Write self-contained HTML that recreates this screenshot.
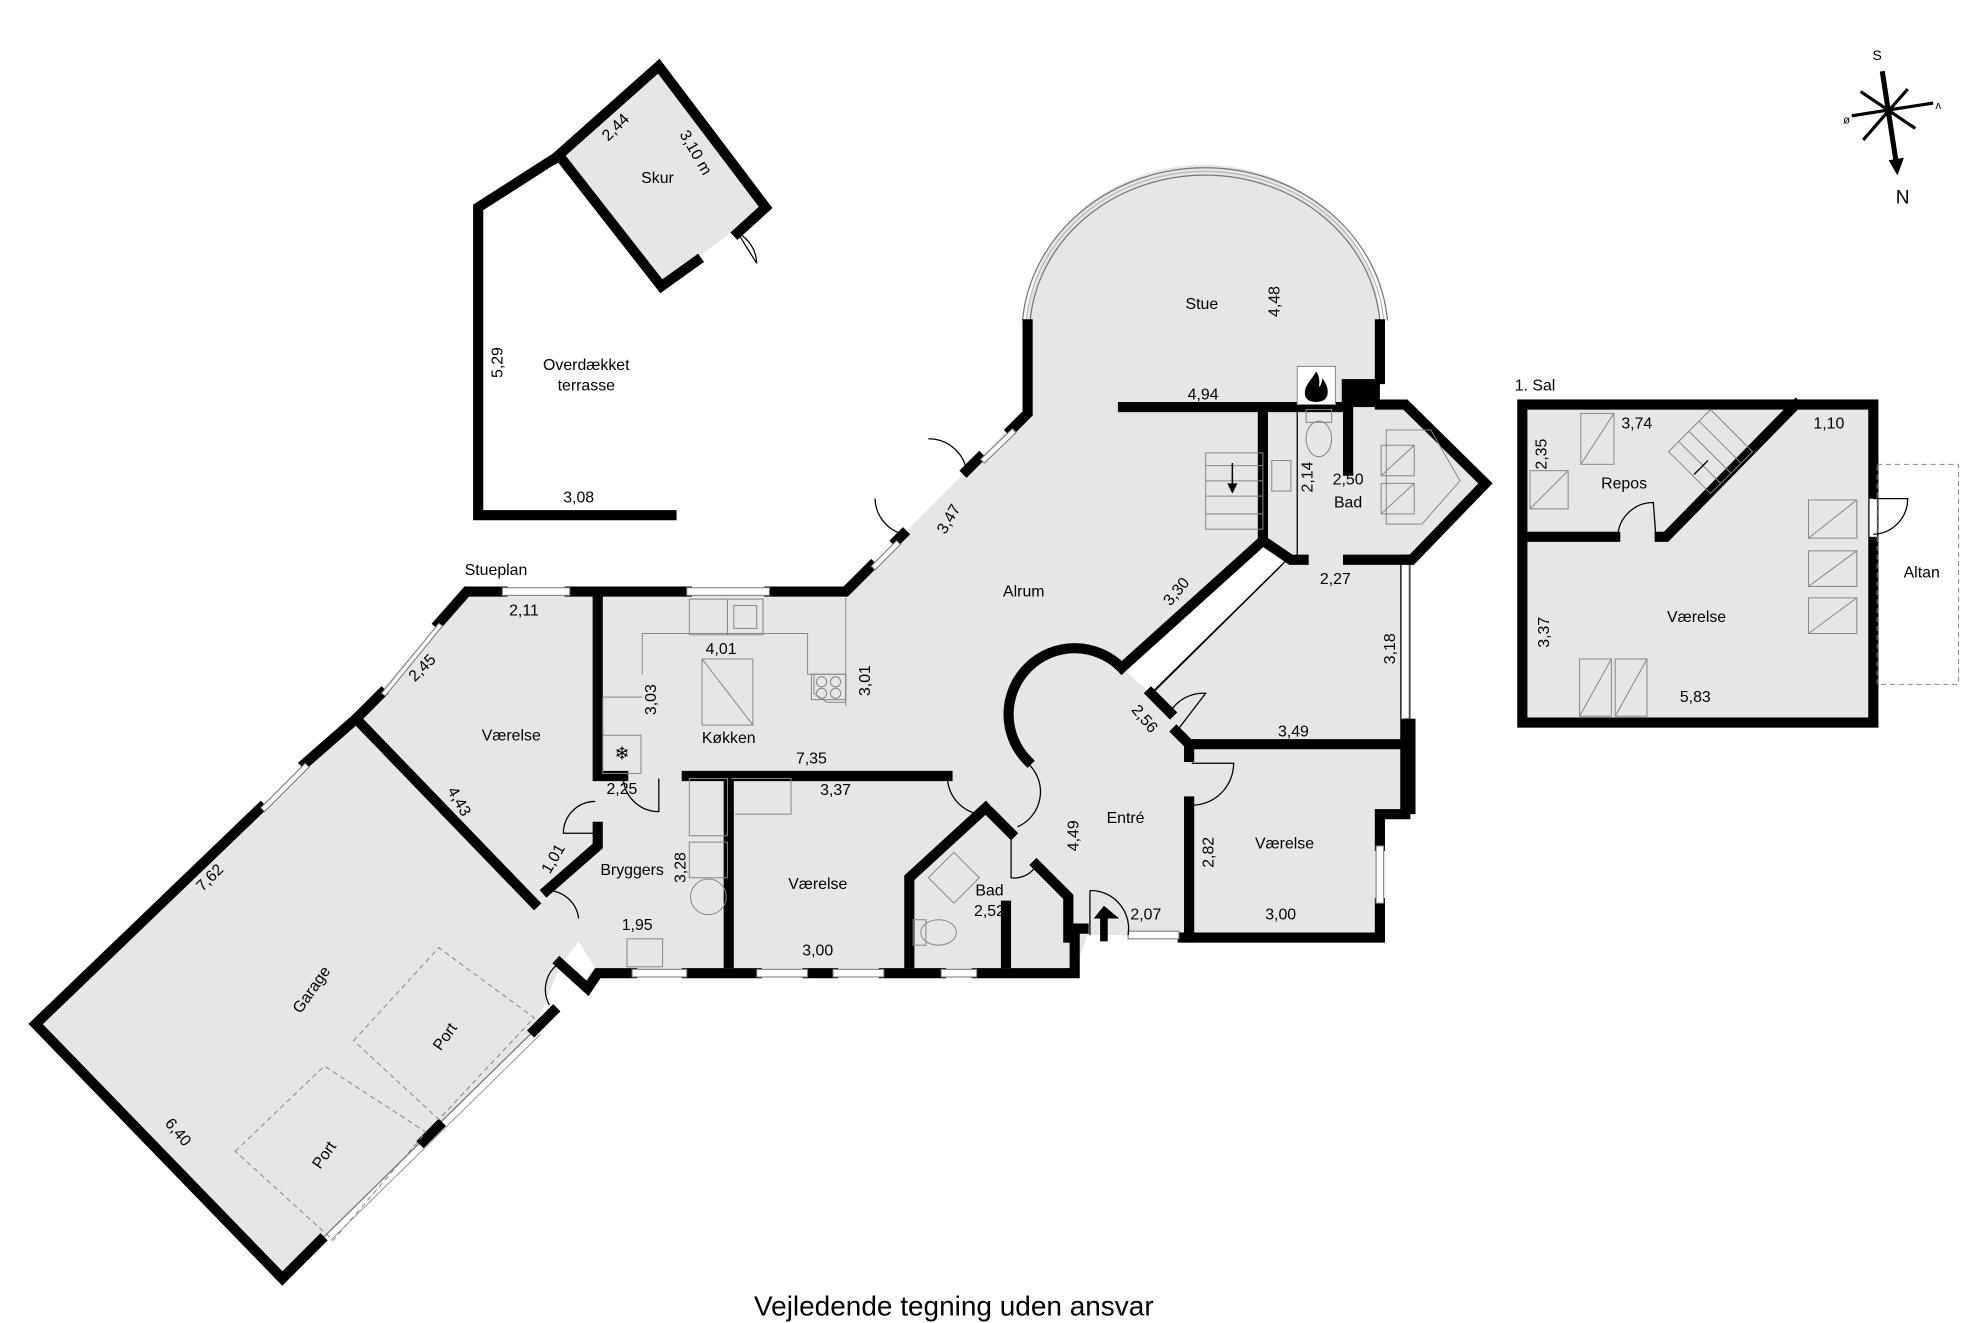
<!DOCTYPE html>
<html><head><meta charset="utf-8"><style>
html,body{margin:0;padding:0;background:#fff;}
svg{display:block;}
text{font-family:"Liberation Sans",Arial,sans-serif;font-size:12.5px;fill:#000;text-anchor:middle;}
.w{fill:none;stroke:#000;stroke-width:8;stroke-linejoin:miter;stroke-linecap:square;}
.t{fill:none;stroke:#000;stroke-width:1;}
.g{fill:none;stroke:#888;stroke-width:0.8;}
.win{fill:#fff;stroke:#777;stroke-width:0.8;}
</style></head><body>
<svg width="1984" height="1323" viewBox="0 0 1560 1040" preserveAspectRatio="none" xmlns="http://www.w3.org/2000/svg">
<rect width="1560" height="1040" fill="#fff"/>
<polygon points="441,122 518,52 602,163 520,223" fill="#e6e6e6"/>
<path d="M367,465 L665,465 L805,325 L808,255 A138,125 0 0 1 1085,255 L1085,318 L1105,318 L1168,380 L1110,440 L1105,440 L1105,640 L1085,640 L1085,737 L930,737 L930,735 L855,735 L845,765 L470,765 L455,740 L440,760 L420,810 L222,1005 L28,805 L280,565 Z" fill="#e6e6e6"/>
<rect x="1197" y="318" width="276" height="250" fill="#e6e6e6"/>
<polygon points="995,425 1012,440 905,545 882,525" fill="#fff"/>
<polyline class="w" points="528,405 376,405 376,163 437,124"/>
<polyline class="w" points="437,124 518,52 602,163 580,183"/>
<polyline class="w" points="548,205 520,225 441,124"/>
<path class="t" d="M580,183 L595,207 M580,183 A28,28 0 0 1 595,207"/>
<path d="M810,252 A138,125 0 0 1 1085,252" fill="none" stroke="#777" stroke-width="1"/>
<path d="M804,252 A144,131 0 0 1 1091,252" fill="none" stroke="#777" stroke-width="1"/>
<path d="M807,252 A141,128 0 0 1 1088,252" fill="none" stroke="#bbb" stroke-width="1"/>
<polyline class="w" points="808,255 808,325 795,338"/>
<polyline class="w" points="770,360 760,370"/>
<polyline class="w" points="710,420 705,425"/>
<polyline class="w" points="685,445 665,465 605,465"/>
<polyline class="w" points="540,465 448,465"/>
<polyline class="w" points="395,465 367,465 345,490"/>
<polyline class="w" points="300,545 280,565 240,600"/>
<polyline class="w" points="205,635 28,805 222,1005 252,975"/>
<line x1="255" y1="972" x2="420" y2="810" stroke="#777" stroke-width="1"/>
<line x1="260" y1="975" x2="425" y2="813" stroke="#999" stroke-width="0.8"/>
<polyline class="w" points="333,897 345,885"/>
<polyline class="w" points="420,810 435,795"/>
<polyline class="w" points="440,757 462,777 470,765 497,765"/>
<polyline class="w" points="540,765 595,765"/>
<polyline class="w" points="635,765 655,765"/>
<polyline class="w" points="695,765 740,765"/>
<polyline class="w" points="768,765 845,765 845,730 852,730"/>
<polyline class="w" points="1085,255 1085,298"/>
<rect x="1055" y="298" width="30" height="22" fill="#000"/>
<polyline class="w" points="1085,318 1105,318 1168,380 1110,440 1105,440 1105,640 1085,640 1085,665"/>
<polyline class="w" points="1085,710 1085,737 930,737"/>
<g class="win">
<polygon points="796,337 771,361 774,364 799,340"/>
<polygon points="705,425 685,445 688,448 708,428"/>
<rect x="540" y="462" width="65" height="6"/>
<rect x="395" y="462" width="53" height="6"/>
<polygon points="345,490 300,545 303,547 348,492"/>
<polygon points="240,600 205,635 208,638 243,603"/>
<rect x="497" y="762" width="43" height="6"/>
<rect x="595" y="762" width="40" height="6"/>
<rect x="655" y="762" width="40" height="6"/>
<rect x="740" y="762" width="28" height="6"/>
<rect x="887" y="732" width="40" height="6"/>
<rect x="1082" y="665" width="6" height="45"/>
<rect x="1102" y="440" width="6" height="125"/>
</g>
<rect x="1105" y="565" width="8" height="75" fill="#000"/>
<path class="t" d="M730,345 A30,30 0 0 1 760,370 M710,420 A30,30 0 0 1 688,392"/>
<polyline class="w" points="883,320 1055,320"/>
<rect x="1020" y="288" width="30" height="30" fill="#fff" stroke="#888" stroke-width="0.8"/>
<path d="M1035,292 C1030,300 1026,303 1026,309 C1026,314 1030,316 1035,316 C1041,316 1044,313 1044,308 C1044,303 1041,300 1040,297 C1039,302 1038,304 1037,304 C1038,299 1037,295 1035,292 Z" fill="#000"/>
<polyline class="w" points="993,320 993,425 1015,440 1025,440"/>
<polyline class="w" points="1060,440 1105,440"/>
<polyline class="w" points="1060,320 1060,370"/>
<line class="t" x1="1020" y1="320" x2="1020" y2="440" stroke="#888"/>
<ellipse cx="1037" cy="345" rx="10" ry="14" class="g"/>
<rect x="1027" y="322" width="20" height="10" class="g"/>
<rect x="1000" y="362" width="15" height="24" class="g"/>
<g class="g"><path d="M1090,338 L1125,338 L1148,378 L1118,412 L1090,412 Z"/><rect x="1086" y="350" width="26" height="24"/><rect x="1086" y="380" width="26" height="24"/><line x1="1086" y1="374" x2="1112" y2="350"/><line x1="1086" y1="404" x2="1112" y2="380"/></g>
<g class="g"><rect x="948" y="356" width="45" height="60"/><line x1="948" y1="366" x2="993" y2="366"/><line x1="948" y1="378" x2="993" y2="378"/><line x1="948" y1="390" x2="993" y2="390"/><line x1="948" y1="404" x2="993" y2="404"/></g>
<line x1="969" y1="364" x2="969" y2="384" stroke="#000" stroke-width="1.2"/><polygon points="965,380 973,380 969,388" fill="#000"/>
<polyline class="w" points="993,425 882,525"/>
<line class="t" x1="1012" y1="440" x2="905" y2="545" stroke="#888"/>
<line class="t" x1="1008" y1="444" x2="908" y2="543" stroke="#aaa"/>
<path class="w" d="M882,525 A45,45 0 1 0 808,598"/>
<polyline class="w" points="905,545 920,560"/>
<path class="t" d="M920,560 A30,30 0 0 1 948,545 L925,575"/>
<polyline class="w" points="925,575 935,585 1105,585"/>
<polyline class="w" points="935,585 935,595"/>
<polyline class="w" points="935,630 935,737"/>
<path class="t" d="M937,600 L970,600 A33,33 0 0 1 937,633"/>
<polyline class="w" points="470,470 470,610 490,610"/>
<polyline class="w" points="540,610 745,610"/>
<path class="t" d="M745,612 A30,30 0 0 0 770,640 M808,600 A30,30 0 0 1 800,650"/>
<polyline class="w" points="573,612 573,757"/>
<g class="g"><rect x="542" y="471" width="30" height="28"/><rect x="572" y="471" width="28" height="28"/><rect x="577" y="476" width="18" height="18"/><polyline points="505,530 505,498 635,498 635,530 665,530 665,552 650,552 640,545 640,530"/><rect x="552" y="518" width="40" height="52"/><line x1="552" y1="518" x2="592" y2="570"/><rect x="638" y="530" width="27" height="20"/><circle cx="646" cy="536" r="4"/><circle cx="657" cy="536" r="4"/><circle cx="646" cy="545" r="4"/><circle cx="657" cy="545" r="4"/><rect x="474" y="578" width="30" height="30"/><polyline points="474,578 474,548 505,548"/><line x1="665" y1="470" x2="665" y2="555"/></g>
<text x="489" y="597" style="font-size:14px">❄</text>
<polyline class="w" points="470,650 470,665 430,700"/>
<polyline class="w" points="280,565 420,710"/>
<path class="t" d="M490,610 A28,28 0 0 0 518,638 L518,612 M468,630 A25,25 0 0 0 443,655 L470,655 M430,700 A25,25 0 0 1 455,722 M440,757 A25,25 0 0 0 432,790"/>
<g class="g"><rect x="542" y="612" width="30" height="45"/><rect x="542" y="662" width="30" height="28"/><circle cx="557" cy="705" r="14"/><rect x="493" y="738" width="28" height="22"/><polyline points="575,612 622,612 622,640 578,640"/></g>
<polyline class="w" points="715,757 715,690 775,635"/>
<polyline class="w" points="780,640 795,655"/>
<polyline class="w" points="815,680 840,705 840,737"/>
<polyline class="w" points="791,712 791,757"/>
<path class="t" d="M795,655 L795,690 A20,20 0 0 0 815,680"/>
<g class="g"><polygon points="730,690 750,670 770,690 750,710"/><ellipse cx="738" cy="733" rx="14" ry="10"/><rect x="718" y="723" width="10" height="20"/></g>
<path class="t" d="M857,700 L857,735 M857,700 A30,30 0 0 1 887,735"/>
<polygon points="860,722 880,722 868,712" fill="#000"/>
<rect x="865" y="720" width="6" height="20" fill="#000"/>
<g class="g" stroke-dasharray="4,3"><polygon points="278,818 345,745 420,800 345,880"/><polygon points="185,905 255,838 335,890 262,975"/></g>
<rect class="w" x="1197" y="318" width="276" height="250" fill="none"/>
<polyline class="w" points="1200,422 1270,422"/>
<polyline class="w" points="1305,422 1310,422 1412,318"/>
<path class="t" d="M1272,422 A28,28 0 0 1 1300,395 L1302,422"/>
<rect x="1470" y="392" width="6" height="30" fill="#fff"/>
<path class="t" d="M1473,392 L1500,392 A28,28 0 0 1 1473,420"/>
<rect class="g" x="1476" y="365" width="64" height="173" stroke-dasharray="4,3"/>
<g class="g"><rect x="1243" y="325" width="26" height="40"/><line x1="1243" y1="365" x2="1269" y2="325"/><rect x="1203" y="370" width="30" height="30"/><line x1="1203" y1="400" x2="1233" y2="370"/><rect x="1422" y="393" width="38" height="30"/><line x1="1422" y1="423" x2="1460" y2="393"/><rect x="1422" y="433" width="38" height="28"/><line x1="1422" y1="461" x2="1460" y2="433"/><rect x="1422" y="470" width="38" height="28"/><line x1="1422" y1="498" x2="1460" y2="470"/><rect x="1242" y="518" width="25" height="45"/><line x1="1242" y1="563" x2="1267" y2="518"/><rect x="1270" y="518" width="25" height="45"/><line x1="1270" y1="563" x2="1295" y2="518"/><polygon points="1312,355 1345,322 1378,355 1345,388"/><line x1="1320" y1="347" x2="1353" y2="380"/><line x1="1328" y1="339" x2="1361" y2="372"/><line x1="1336" y1="331" x2="1369" y2="364"/></g>
<line x1="1343" y1="362" x2="1332" y2="373" stroke="#000" stroke-width="1"/>
<g stroke="#000" stroke-linecap="butt">
<line x1="1480" y1="56" x2="1491" y2="128" stroke-width="4"/>
<polygon points="1485,126 1497,124 1492,138" fill="#000" stroke="none"/>
<line x1="1456" y1="91" x2="1520" y2="81" stroke-width="2.5"/>
<line x1="1463" y1="72" x2="1506" y2="101" stroke-width="2.5"/>
<line x1="1465" y1="110" x2="1500" y2="70" stroke-width="2.5"/>
</g>
<text x="1476" y="47" style="font-size:11px">S</text>
<text x="1496" y="160" style="font-size:15px">N</text>
<text x="1452" y="97" style="font-size:9px">ø</text>
<text x="1524" y="87" style="font-size:9px" transform="rotate(180 1524 84)">v</text>
<text x="517" y="144">Skur</text>
<text x="484" y="104" transform="rotate(-45 484 100)">2,44</text>
<text x="547" y="124" transform="rotate(60 547 120)">3,10 m</text>
<text x="461" y="291">Overdækket</text>
<text x="461" y="307">terrasse</text>
<text x="391" y="289" transform="rotate(-90 391 285)">5,29</text>
<text x="455" y="395">3,08</text>
<text x="945" y="243">Stue</text>
<text x="1002" y="241" transform="rotate(-90 1002 237)">4,48</text>
<text x="946" y="314">4,94</text>
<text x="746" y="412" transform="rotate(-60 746 408)">3,47</text>
<text x="805" y="469">Alrum</text>
<text x="925" y="469" transform="rotate(-50 925 465)">3,30</text>
<text x="1028" y="379" transform="rotate(-90 1028 375)">2,14</text>
<text x="1060" y="381">2,50</text>
<text x="1060" y="399">Bad</text>
<text x="1050" y="459">2,27</text>
<text x="1093" y="514" transform="rotate(-90 1093 510)">3,18</text>
<text x="390" y="452">Stueplan</text>
<text x="412" y="484">2,11</text>
<text x="332" y="529" transform="rotate(-45 332 525)">2,45</text>
<text x="402" y="582">Værelse</text>
<text x="361" y="634" transform="rotate(60 361 630)">4,43</text>
<text x="435" y="679" transform="rotate(-60 435 675)">1,01</text>
<text x="567" y="514">4,01</text>
<text x="573" y="584">Køkken</text>
<text x="512" y="554" transform="rotate(-90 512 550)">3,03</text>
<text x="680" y="539" transform="rotate(-90 680 535)">3,01</text>
<text x="638" y="600">7,35</text>
<text x="489" y="624">2,25</text>
<text x="657" y="625">3,37</text>
<text x="497" y="688">Bryggers</text>
<text x="535" y="686" transform="rotate(-90 535 682)">3,28</text>
<text x="643" y="699">Værelse</text>
<text x="501" y="731">1,95</text>
<text x="643" y="751">3,00</text>
<text x="778" y="704">Bad</text>
<text x="778" y="720">2,52</text>
<text x="844" y="661" transform="rotate(-90 844 657)">4,49</text>
<text x="885" y="647">Entré</text>
<text x="900" y="569" transform="rotate(50 900 565)">2,56</text>
<text x="1017" y="579">3,49</text>
<text x="950" y="674" transform="rotate(-90 950 670)">2,82</text>
<text x="1010" y="667">Værelse</text>
<text x="1007" y="723">3,00</text>
<text x="901" y="723">2,07</text>
<text x="165" y="694" transform="rotate(-45 165 690)">7,62</text>
<text x="245" y="782" transform="rotate(-55 245 778)">Garage</text>
<text x="350" y="819" transform="rotate(-55 350 815)">Port</text>
<text x="255" y="912" transform="rotate(-55 255 908)">Port</text>
<text x="140" y="894" transform="rotate(50 140 890)">6,40</text>
<text x="1207" y="307">1. Sal</text>
<text x="1287" y="337">3,74</text>
<text x="1438" y="337">1,10</text>
<text x="1212" y="361" transform="rotate(-90 1212 357)">2,35</text>
<text x="1277" y="384">Repos</text>
<text x="1334" y="489">Værelse</text>
<text x="1214" y="501" transform="rotate(-90 1214 497)">3,37</text>
<text x="1333" y="552">5,83</text>
<text x="1511" y="454">Altan</text>
<text x="750" y="1034" style="font-size:22px">Vejledende tegning uden ansvar</text>
</svg>
</body></html>
